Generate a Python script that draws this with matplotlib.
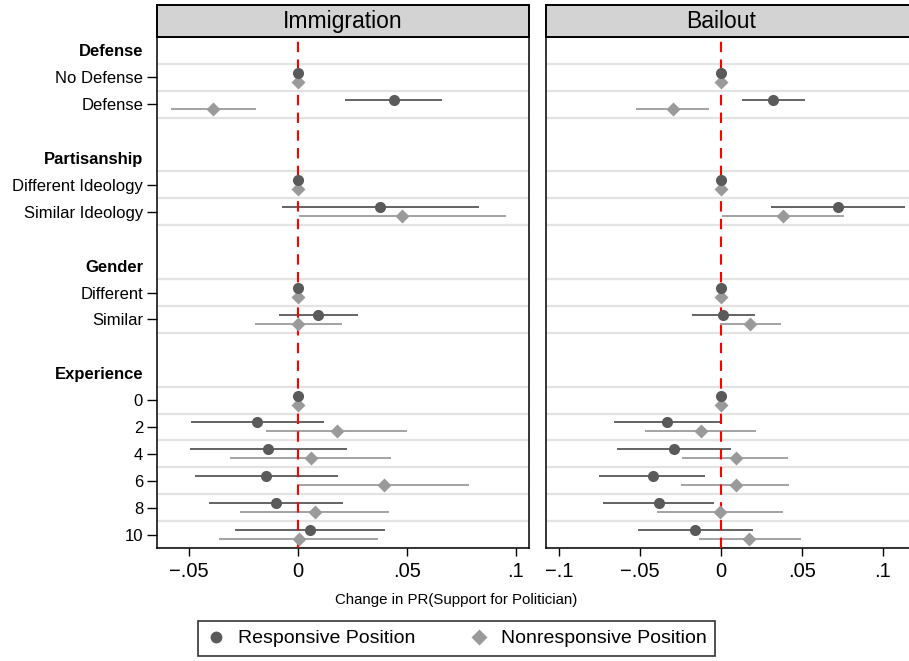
import matplotlib
matplotlib.use("Agg")
import matplotlib.pyplot as plt
from matplotlib.lines import Line2D

plt.rcParams['font.family'] = ['Liberation Sans', 'DejaVu Sans']

# groups and their levels (top to bottom)
groups = ["Defense", "Partisanship", "Gender", "Experience"]
group_levels = [["No Defense", "Defense"],
                ["Different Ideology", "Similar Ideology"],
                ["Different", "Similar"],
                ["0", "2", "4", "6", "8", "10"]]

panels = ["Immigration", "Bailout"]

# Immigration estimates and 95% CIs
imm_resp = [0, 0.0439, 0, 0.0378, 0, 0.0093, 0, -0.0185, -0.0135, -0.0145, -0.0101, 0.0058]
imm_resp_lo = [0, 0.0217, 0, -0.0071, 0, -0.0087, 0, -0.0490, -0.0494, -0.0473, -0.0405, -0.0288]
imm_resp_hi = [0, 0.0660, 0, 0.0832, 0, 0.0274, 0, 0.0119, 0.0226, 0.0186, 0.0206, 0.0402]
imm_non = [0, -0.0387, 0, 0.0480, 0, 0.0003, 0, 0.0179, 0.0061, 0.0396, 0.0078, 0.0005]
imm_non_lo = [0, -0.0583, 0, 0.0006, 0, -0.0194, 0, -0.0147, -0.0309, 0.0006, -0.0263, -0.0361]
imm_non_hi = [0, -0.0191, 0, 0.0954, 0, 0.0202, 0, 0.0503, 0.0429, 0.0783, 0.0417, 0.0370]

# Bailout estimates and 95% CIs
bail_resp = [0, 0.0325, 0, 0.0724, 0, 0.0016, 0, -0.0333, -0.0290, -0.0422, -0.0383, -0.0160]
bail_resp_lo = [0, 0.0128, 0, 0.0309, 0, -0.0177, 0, -0.0662, -0.0640, -0.0753, -0.0728, -0.0514]
bail_resp_hi = [0, 0.0523, 0, 0.1140, 0, 0.0214, 0, -0.0004, 0.0062, -0.0095, -0.0039, 0.0196]
bail_non = [0, -0.0298, 0, 0.0387, 0, 0.0183, 0, -0.0123, 0.0091, 0.0091, -0.0006, 0.0177]
bail_non_lo = [0, -0.0525, 0, 0.0010, 0, -0.0006, 0, -0.0467, -0.0241, -0.0243, -0.0397, -0.0136]
bail_non_hi = [0, -0.0074, 0, 0.0763, 0, 0.0372, 0, 0.0220, 0.0418, 0.0420, 0.0383, 0.0494]

left_xticks = [-0.05, 0, 0.05, 0.1]
left_xticklabels = ["\u2212.05", "0", ".05", ".1"]
right_xticks = [-0.1, -0.05, 0, 0.05, 0.1]
right_xticklabels = ["\u2212.1", "\u2212.05", "0", ".05", ".1"]

xlabel = "Change in PR(Support for Politician)"
legend_labels = ["Responsive Position", "Nonresponsive Position"]

RESP_C = "#5a5a5a"
NON_C = "#9a9a9a"
GRID_C = "#e3e3e3"

# row positions: header row, its levels, blank row between groups
header_pos, level_pos, level_names = [], [], []
r = 0
for g, levs in zip(groups, group_levels):
    header_pos.append(r)
    r += 1
    for lv in levs:
        level_pos.append(r)
        level_names.append(lv)
        r += 1
    r += 1
last_row = level_pos[-1]

W, H = 909, 661
fig = plt.figure(figsize=(W / 100, H / 100), dpi=100)


def px_axes(x0, y0, x1, y1):
    return fig.add_axes([x0 / W, 1 - y1 / H, (x1 - x0) / W, (y1 - y0) / H])


data = {
    "Immigration": (imm_resp, imm_resp_lo, imm_resp_hi, imm_non, imm_non_lo, imm_non_hi),
    "Bailout": (bail_resp, bail_resp_lo, bail_resp_hi, bail_non, bail_non_lo, bail_non_hi),
}
boxes = {"Immigration": (157, 529), "Bailout": (546, 911)}
xlims = {"Immigration": (-0.0645, 0.106), "Bailout": (-0.108, 0.1175)}

off = 0.167
for name in panels:
    x0, x1 = boxes[name]
    ax = px_axes(x0, 37, x1, 548)
    rs, rlo, rhi, ns, nlo, nhi = data[name]

    gl = sorted(set([p - 0.5 for p in level_pos] + [p + 0.5 for p in level_pos]))
    for yy in gl:
        ax.axhline(yy, color=GRID_C, lw=1.6, zorder=1)

    yr = [p - off for p in level_pos]
    yn = [p + off for p in level_pos]
    ax.hlines(yr, rlo, rhi, color="#636363", lw=1.4, zorder=2)
    ax.hlines(yn, nlo, nhi, color="#a3a3a3", lw=1.4, zorder=2)
    ax.axvline(0, color="red", lw=1.5, ls=(0, (5, 3.5)), zorder=3)
    ax.plot(rs, yr, "o", color=RESP_C, ms=8, mec="none", zorder=5)
    ax.plot(ns, yn, "D", color=NON_C, ms=7.4, mec="none", zorder=4)

    ax.set_ylim(last_row + 0.5, -0.5)
    ax.set_xlim(*xlims[name])
    for s in ax.spines.values():
        s.set_linewidth(1.1)

    if name == "Immigration":
        ax.set_xticks(left_xticks)
        ax.set_xticklabels(left_xticklabels)
        ax.set_yticks(header_pos + level_pos)
        ax.set_yticklabels(groups + level_names)
        ticks = ax.yaxis.get_major_ticks()
        for i in range(len(header_pos)):
            ticks[i].tick1line.set_visible(False)
            ticks[i].label1.set_fontweight("bold")
        ax.tick_params(axis="y", length=7, width=1.0, pad=3, labelsize=12)
    else:
        ax.set_xticks(right_xticks)
        ax.set_xticklabels(right_xticklabels)
        ax.set_yticks([])
        ax.spines["right"].set_visible(False)
    ax.tick_params(axis="x", length=6, width=1.0, pad=4, labelsize=14.5)

    # strip header
    sx = px_axes(x0, 5, x1, 37)
    sx.set_facecolor("#d3d3d3")
    sx.set_xticks([])
    sx.set_yticks([])
    for s in sx.spines.values():
        s.set_linewidth(1.4)
    if name == "Bailout":
        sx.spines["right"].set_visible(False)
    sx.text(0.5 if name == "Immigration" else (721 - 546) / (911 - 546), 0.48, name,
            transform=sx.transAxes, ha="center", va="center", fontsize=16.5)

fig.text(456 / W, 1 - 600 / H, xlabel, ha="center", va="center", fontsize=10.8)

handles = [Line2D([], [], marker="o", ls="none", color=RESP_C, ms=8.5, mec="none"),
           Line2D([], [], marker="D", ls="none", color=NON_C, ms=8, mec="none")]
leg = fig.legend(handles, legend_labels, ncol=2, loc="center",
                 bbox_to_anchor=(456.5 / W, 1 - 638.5 / H),
                 fontsize=14, frameon=True, fancybox=False,
                 edgecolor="black", borderpad=0.45, handlelength=1.0,
                 handletextpad=0.6, columnspacing=2.8, borderaxespad=0)
leg.get_frame().set_linewidth(1.2)

fig.savefig("out.png", dpi=100)
